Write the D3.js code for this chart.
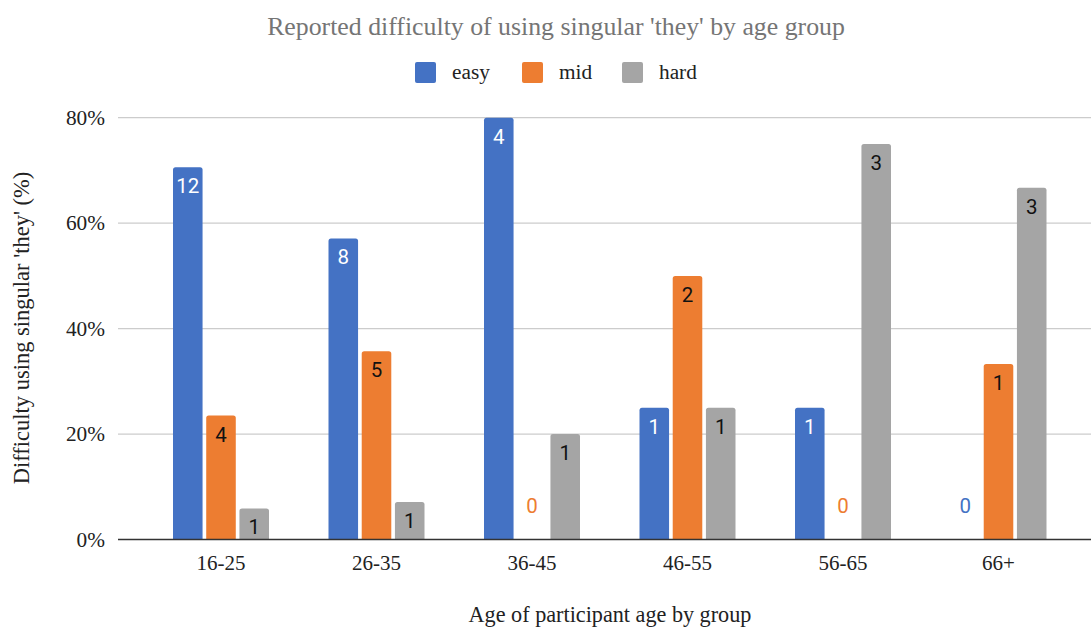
<!DOCTYPE html>
<html>
<head>
<meta charset="utf-8">
<script src="https://cdn.jsdelivr.net/npm/d3@7"></script>
<style>
  html, body { margin: 0; padding: 0; background: #fff; }
  svg { display: block; }
</style>
</head>
<body>
<svg id="chart" width="1091" height="627"></svg>
<script>
// Age groups and answer categories
const ageGroups = ["16-25", "26-35", "36-45", "46-55", "56-65", "66+"];
const seriesNames = ["easy", "mid", "hard"];
const seriesColors = ["#4472c4", "#ed7d31", "#a5a5a5"];

// Share of participants in each age group (%)
const easyPct = [70.6, 57.1, 80, 25, 25, 0];
const midPct  = [23.5, 35.7, 0, 50, 0, 33.3];
const hardPct = [5.9, 7.1, 20, 25, 75, 66.7];

// Number of participants shown on each bar
const easyCount = [12, 8, 4, 1, 1, 0];
const midCount  = [4, 5, 0, 2, 0, 1];
const hardCount = [1, 1, 1, 1, 3, 3];

const yTicks = [0, 20, 40, 60, 80];

const pctSeries = [easyPct, midPct, hardPct];
const countSeries = [easyCount, midCount, hardCount];

const svg = d3.select("#chart");
const plotLeft = 118, plotRight = 1091, plotTop = 117.7, plotBottom = 539.5;

const x0 = d3.scaleBand().domain(ageGroups).range([143.25, 1076.25]).paddingInner(0).paddingOuter(0);
const x1 = d3.scaleBand().domain(seriesNames).range([29.75, 29.75 + 96]).paddingInner(0.11).paddingOuter(0);
const y = d3.scaleLinear().domain([0, 80]).range([plotBottom, plotTop]);

const serif = "'Liberation Serif', 'Times New Roman', serif";
const sans = "Roboto, 'Noto Sans', sans-serif";

// Title
svg.append("text")
  .attr("x", 556).attr("y", 35)
  .attr("text-anchor", "middle")
  .attr("font-family", serif).attr("font-size", 25.8)
  .attr("fill", "#757575")
  .text("Reported difficulty of using singular 'they' by age group");

// Legend
const legendX = [415, 522, 622];
const legend = svg.append("g");
seriesNames.forEach((name, i) => {
  legend.append("rect")
    .attr("x", legendX[i]).attr("y", 62)
    .attr("width", 21).attr("height", 21).attr("rx", 2)
    .attr("fill", seriesColors[i]);
  legend.append("text")
    .attr("x", legendX[i] + 37).attr("y", 79)
    .attr("font-family", serif).attr("font-size", 21.3)
    .attr("fill", "#222")
    .text(name);
});

// Horizontal grid lines
svg.append("g")
  .selectAll("line")
  .data(yTicks.filter(t => t > 0))
  .join("line")
  .attr("x1", plotLeft).attr("x2", plotRight)
  .attr("y1", d => y(d)).attr("y2", d => y(d))
  .attr("stroke", "#cccccc").attr("stroke-width", 1.3);

// Y axis labels
const yAxis = d3.axisLeft(y).tickValues(yTicks).tickFormat(d => d + "%").tickSize(0).tickPadding(0);
const yAxisG = svg.append("g").attr("transform", `translate(105,0)`).call(yAxis);
yAxisG.select(".domain").remove();
yAxisG.selectAll("text")
  .attr("font-family", serif).attr("font-size", 21.3).attr("fill", "#222");

// Bars
const groups = svg.append("g")
  .selectAll("g")
  .data(ageGroups)
  .join("g")
  .attr("transform", d => `translate(${x0(d)},0)`);

const barData = gi => seriesNames.map((s, si) => ({
  series: s, si, value: pctSeries[si][gi], count: countSeries[si][gi]
}));

groups.selectAll("path")
  .data((g, gi) => barData(gi).filter(d => d.value > 0))
  .join("path")
  .attr("fill", d => seriesColors[d.si])
  .attr("d", d => {
    const bx = x1(d.series), bw = x1.bandwidth();
    const top = y(d.value), bot = y(0), r = 2.5;
    return `M${bx},${bot} L${bx},${top + r} Q${bx},${top} ${bx + r},${top} L${bx + bw - r},${top} Q${bx + bw},${top} ${bx + bw},${top + r} L${bx + bw},${bot} Z`;
  });

// Value labels
groups.selectAll("text")
  .data((g, gi) => barData(gi))
  .join("text")
  .attr("x", d => x1(d.series) + x1.bandwidth() / 2)
  .attr("y", d => d.value > 0 ? y(d.value) + 26 : y(0) - 26.5)
  .attr("text-anchor", "middle")
  .attr("font-family", sans).attr("font-size", 20.5)
  .attr("fill", d => d.value === 0 ? seriesColors[d.si] : (d.si === 0 ? "#ffffff" : "#111111"))
  .text(d => d.count);

// Baseline
svg.append("line")
  .attr("x1", plotLeft).attr("x2", plotRight)
  .attr("y1", y(0)).attr("y2", y(0))
  .attr("stroke", "#333").attr("stroke-width", 1.5);

// X axis labels
const xAxis = d3.axisBottom(x0).tickSize(0).tickPadding(0);
const xAxisG = svg.append("g").attr("transform", `translate(0,${plotBottom + 30})`).call(xAxis);
xAxisG.select(".domain").remove();
xAxisG.selectAll("text")
  .attr("dy", 0)
  .attr("font-family", serif).attr("font-size", 21).attr("fill", "#222");

// Axis titles
svg.append("text")
  .attr("x", 610).attr("y", 622)
  .attr("text-anchor", "middle")
  .attr("font-family", serif).attr("font-size", 22.2).attr("fill", "#222")
  .text("Age of participant age by group");

svg.append("text")
  .attr("transform", "translate(29,328) rotate(-90)")
  .attr("text-anchor", "middle")
  .attr("font-family", serif).attr("font-size", 22.5).attr("fill", "#222")
  .text("Difficulty using singular 'they' (%)");
</script>
</body>
</html>
